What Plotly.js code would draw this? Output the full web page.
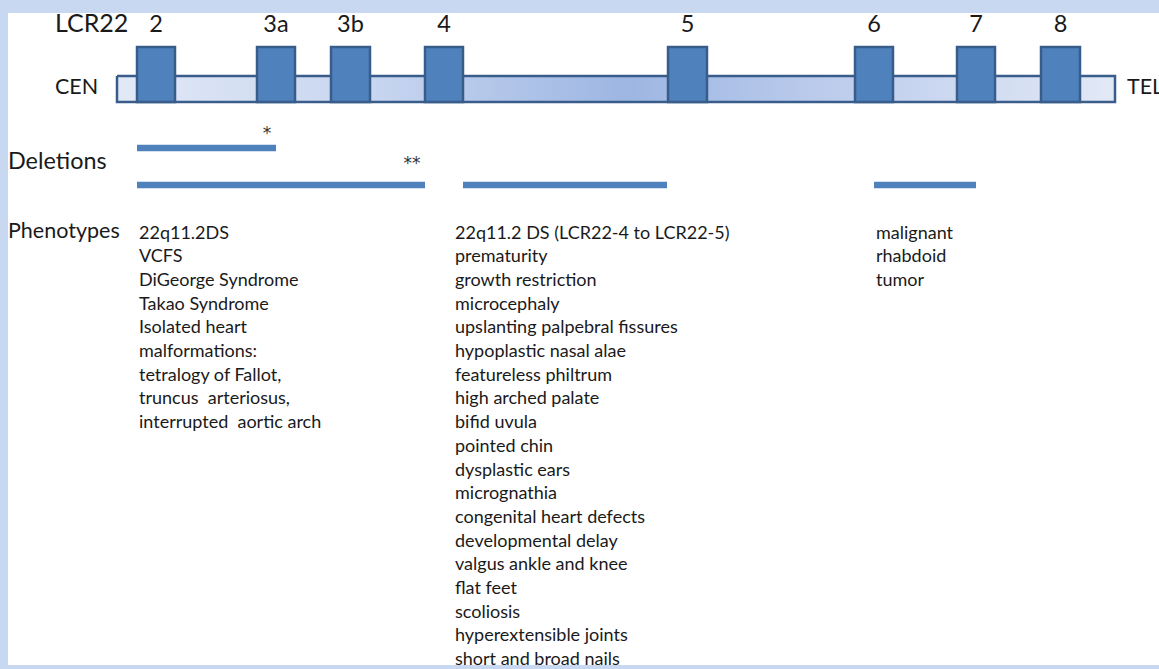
<!DOCTYPE html>
<html>
<head>
<meta charset="utf-8">
<script src="https://cdn.plot.ly/plotly-3.0.1.min.js"></script>
<style>html,body{margin:0;padding:0;background:#c8d8f0;}#chart{width:1159px;height:669px;}</style>
</head>
<body>
<div id="chart"></div>
<script>
// ---- data ----
const lcrLabels = ['2', '3a', '3b', '4', '5', '6', '7', '8'];
const lcrStart  = [137, 257, 331, 425, 668, 855, 957, 1041];
const lcrEnd    = [175, 295, 370, 463, 707, 893, 995, 1080];
const chromStart = 117;
const chromEnd = 1115;

const deletionStart = [137, 137, 463, 874];
const deletionEnd   = [276, 425, 667, 976];
const deletionRow   = [0, 1, 1, 1];
const deletionMark  = ['*', '**', '', ''];

const phenoCol1 = ['22q11.2DS', 'VCFS', 'DiGeorge Syndrome', 'Takao Syndrome', 'Isolated heart',
  'malformations:', 'tetralogy of Fallot,', 'truncus  arteriosus,', 'interrupted  aortic arch'];
const phenoCol2 = ['22q11.2 DS (LCR22-4 to LCR22-5)', 'prematurity', 'growth restriction', 'microcephaly',
  'upslanting palpebral fissures', 'hypoplastic nasal alae', 'featureless philtrum', 'high arched palate',
  'bifid uvula', 'pointed chin', 'dysplastic ears', 'micrognathia', 'congenital heart defects',
  'developmental delay', 'valgus ankle and knee', 'flat feet', 'scoliosis', 'hyperextensible joints',
  'short and broad nails'];
const phenoCol3 = ['malignant', 'rhabdoid', 'tumor'];

// ---- layout constants ----
const FONT = 'Lato, "Open Sans", sans-serif';
const TXT = '#1a1a1a';
const BLUE = '#4f81bd';
const DARK = '#385d8a';
const chromTop = 76, chromBot = 102, blockTop = 47;
const labelY = 26;
const delRowY = [148, 185];
const phenoTop = 234, phenoStep = 23.7;
const colX = [139, 455, 876];

const traces = [];

// chromosome bar with gradient
traces.push({
  type: 'scatter', mode: 'lines',
  x: [chromStart, chromEnd, chromEnd, chromStart, chromStart],
  y: [chromTop, chromTop, chromBot, chromBot, chromTop],
  fill: 'toself',
  fillgradient: {
    type: 'horizontal', start: chromStart, stop: chromEnd,
    colorscale: [[0, '#e2e9f6'], [0.25, '#c9d6f0'], [0.51, '#9db6e2'], [0.75, '#c2d0ee'], [1, '#e2e9f6']]
  },
  line: {color: DARK, width: 2.5},
  hoverinfo: 'skip', showlegend: false
});

// deletions
deletionStart.forEach((s, i) => {
  traces.push({
    type: 'scatter', mode: 'lines',
    x: [s, deletionEnd[i]], y: [delRowY[deletionRow[i]], delRowY[deletionRow[i]]],
    line: {color: BLUE, width: 6.5}, hoverinfo: 'skip', showlegend: false
  });
});

// deletion marks
const markX = [], markY = [], markT = [];
deletionMark.forEach((m, i) => {
  if (m) { markX.push(i === 0 ? deletionEnd[i] - 9 : deletionEnd[i] - 13); markY.push(delRowY[deletionRow[i]] - (i === 0 ? 13 : 20)); markT.push(m); }
});
traces.push({
  type: 'scatter', mode: 'text', x: markX, y: markY, text: markT,
  textposition: 'middle center', textfont: {family: '"DejaVu Sans", sans-serif', size: 17, color: '#333333'},
  hoverinfo: 'skip', showlegend: false, cliponaxis: true
});

// LCR labels
traces.push({
  type: 'scatter', mode: 'text',
  x: lcrStart.map((s, i) => (s + lcrEnd[i]) / 2), y: lcrLabels.map(() => labelY),
  text: lcrLabels, textposition: 'middle center',
  textfont: {family: FONT, size: 23.5, color: TXT}, hoverinfo: 'skip', showlegend: false
});

// left-aligned labels
const leftLabels = [
  {t: 'LCR22', x: 55, y: labelY, s: 25},
  {t: 'CEN', x: 55, y: 89, s: 21.5},
  {t: 'TEL', x: 1127, y: 89, s: 21.5},
  {t: 'Deletions', x: 8, y: 163, s: 23.4},
  {t: 'Phenotypes', x: 8, y: 233, s: 21.5}
];
traces.push({
  type: 'scatter', mode: 'text',
  x: leftLabels.map(d => d.x), y: leftLabels.map(d => d.y), text: leftLabels.map(d => d.t),
  textposition: 'middle right',
  textfont: {family: FONT, size: leftLabels.map(d => d.s), color: TXT},
  hoverinfo: 'skip', showlegend: false
});

// phenotype columns
[phenoCol1, phenoCol2, phenoCol3].forEach((col, c) => {
  traces.push({
    type: 'scatter', mode: 'text',
    x: col.map(() => colX[c]), y: col.map((_, i) => phenoTop + i * phenoStep),
    text: col, textposition: 'middle right',
    textfont: {family: FONT, size: 18, color: TXT},
    hoverinfo: 'skip', showlegend: false
  });
});

// LCR blocks as shapes
const shapes = lcrStart.map((s, i) => ({
  type: 'rect', xref: 'x', yref: 'y', layer: 'above',
  x0: s, x1: lcrEnd[i], y0: blockTop, y1: chromBot,
  fillcolor: BLUE, line: {color: DARK, width: 2.5}
}));

const layout = {
  width: 1159, height: 669,
  margin: {l: 8, r: 0, t: 13, b: 4, pad: 0},
  paper_bgcolor: '#c8d8f0', plot_bgcolor: '#ffffff',
  xaxis: {range: [8, 1159], visible: false, fixedrange: true},
  yaxis: {range: [665, 13], visible: false, fixedrange: true},
  shapes: shapes,
  showlegend: false,
  hovermode: false
};

Plotly.newPlot('chart', traces, layout, {displayModeBar: false, staticPlot: true});
</script>
</body>
</html>
